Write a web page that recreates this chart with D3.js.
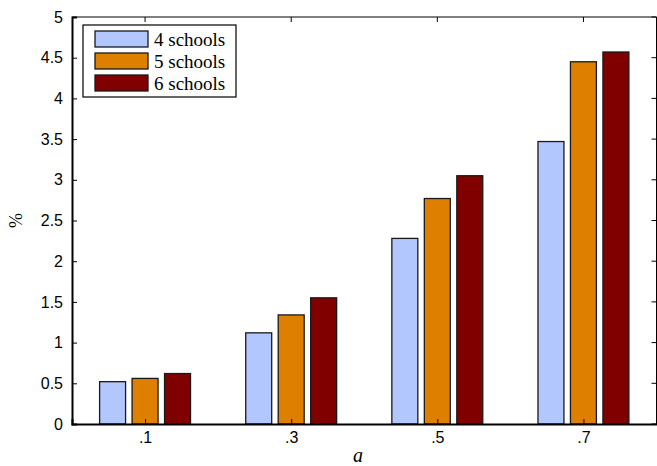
<!DOCTYPE html>
<html>
<head>
<meta charset="utf-8">
<script src="https://cdn.jsdelivr.net/npm/d3@7"></script>
<style>
  body { margin: 0; background: #fff; }
  svg { display: block; }
</style>
</head>
<body>
<svg id="chart"></svg>
<script>
const categories = [".1", ".3", ".5", ".7"];
const seriesNames = ["4 schools", "5 schools", "6 schools"];
const schools4 = [0.52, 1.12, 2.28, 3.47];
const schools5 = [0.56, 1.34, 2.77, 4.45];
const schools6 = [0.62, 1.55, 3.05, 4.57];
const yTicks = [0, 0.5, 1, 1.5, 2, 2.5, 3, 3.5, 4, 4.5, 5];
const colors = ["#b3c7ff", "#df7f00", "#800000"];

const width = 657, height = 466;
const margin = {left: 72, right: 0.5, top: 17, bottom: 42};
const series = [schools4, schools5, schools6];
const sansFont = "Arial, 'Liberation Sans', sans-serif";
const serifFont = "'Liberation Serif', 'Times New Roman', serif";

const svg = d3.select("#chart")
    .attr("width", width)
    .attr("height", height)
    .style("font-family", sansFont);

// matlab style grouped bars: groups at 1..n, x limits [0.5, n + 0.5]
const x = d3.scaleLinear()
    .domain([0.5, categories.length + 0.5])
    .range([margin.left, width - margin.right]);
const y = d3.scaleLinear()
    .domain([0, 5])
    .range([height - margin.bottom, margin.top]);

const groupWidth = Math.min(0.8, series.length / (series.length + 1.5));
const barWidth = 0.8 * groupWidth / series.length;
const offset = i => (i - (series.length - 1) / 2) * groupWidth / series.length;

// bars
series.forEach((vals, si) => {
    svg.append("g")
        .selectAll("rect")
        .data(vals)
        .join("rect")
        .attr("x", (d, i) => x(i + 1 + offset(si) - barWidth / 2))
        .attr("width", x(barWidth) - x(0))
        .attr("y", d => y(d))
        .attr("height", d => y(0) - y(d))
        .attr("fill", colors[si])
        .attr("stroke", "#1a1a1a")
        .attr("stroke-width", 1.3);
});

// box
const x0 = x.range()[0], x1 = x.range()[1];
const yb = y(0), yt = y(5);
svg.append("line").attr("x1", x0).attr("x2", x1).attr("y1", yt).attr("y2", yt)
    .attr("stroke", "#000").attr("stroke-width", 1);
svg.append("line").attr("x1", x1).attr("x2", x1).attr("y1", yt).attr("y2", yb)
    .attr("stroke", "#000").attr("stroke-width", 1);

// left axis
const yAxis = svg.append("g")
    .attr("transform", `translate(${x0},0)`)
    .call(d3.axisLeft(y).tickValues(yTicks).tickSize(-5).tickPadding(9).tickFormat(d3.format("")));
yAxis.attr("font-family", sansFont).attr("font-size", 16);
yAxis.select(".domain").attr("stroke-width", 2);
yAxis.selectAll("text").attr("fill", "#000");

// right ticks
svg.append("g")
    .selectAll("line")
    .data(yTicks)
    .join("line")
    .attr("x1", x1).attr("x2", x1 - 5)
    .attr("y1", d => y(d)).attr("y2", d => y(d))
    .attr("stroke", "#000");

// bottom axis
const xAxis = svg.append("g")
    .attr("transform", `translate(0,${yb})`)
    .call(d3.axisBottom(x).tickValues(d3.range(1, categories.length + 1))
        .tickSize(-5).tickPadding(8).tickFormat((d, i) => categories[i]));
xAxis.attr("font-family", sansFont).attr("font-size", 16);
xAxis.select(".domain").attr("stroke-width", 2);
xAxis.selectAll("text").attr("fill", "#000");

// top ticks
svg.append("g")
    .selectAll("line")
    .data(d3.range(1, categories.length + 1))
    .join("line")
    .attr("x1", d => x(d)).attr("x2", d => x(d))
    .attr("y1", yt).attr("y2", yt + 5)
    .attr("stroke", "#000");

// axis labels
svg.append("text")
    .attr("transform", `translate(22,${(yt + yb) / 2}) rotate(-90)`)
    .attr("text-anchor", "middle")
    .attr("font-family", serifFont)
    .attr("font-size", 18)
    .text("%");
svg.append("text")
    .attr("x", 358)
    .attr("y", 462)
    .attr("text-anchor", "middle")
    .attr("font-family", serifFont)
    .attr("font-style", "italic")
    .attr("font-size", 20)
    .text("a");

// legend
const legend = svg.append("g").attr("transform", "translate(83,25)");
legend.append("rect")
    .attr("width", 153).attr("height", 72)
    .attr("fill", "#fff").attr("stroke", "#000").attr("stroke-width", 1.2);
const item = legend.selectAll("g.item")
    .data(seriesNames)
    .join("g")
    .attr("class", "item")
    .attr("transform", (d, i) => `translate(12,${6 + i * 22})`);
item.append("rect")
    .attr("width", 53).attr("height", 16)
    .attr("fill", (d, i) => colors[i])
    .attr("stroke", "#1a1a1a").attr("stroke-width", 1.3);
item.append("text")
    .attr("x", 59).attr("y", 14.5)
    .attr("font-family", serifFont)
    .attr("font-size", 19)
    .text(d => d);
</script>
</body>
</html>
